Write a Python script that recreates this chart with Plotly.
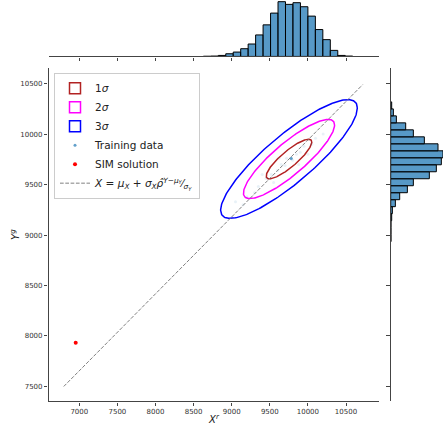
import numpy as np
import plotly.graph_objects as go

# ---------------- data ----------------
MU_X, MU_Y = 9752, 9753
SIGMA_X, SIGMA_Y = 299, 196
RHO = 0.86
N_STD = [1, 2, 3]
ELL_NAMES = ["1<i>σ</i>", "2<i>σ</i>", "3<i>σ</i>"]
ELL_COLORS = ["#b22222", "#ff00ff", "#0000ff"]

SIM_X = [6953]
SIM_Y = [7934]

LINE_Y = [7500, 10490]

TRAIN_X = [9450, 9520, 9600, 9650, 9700, 9720, 9800, 9850, 9900, 9950, 10050, 10100,
           9350, 9300, 9200, 9550, 9620, 9880, 10000, 10200, 9150, 9050, 9400]
TRAIN_Y = [9560, 9600, 9640, 9700, 9690, 9760, 9740, 9800, 9820, 9880, 9900, 9960,
           9480, 9420, 9380, 9520, 9760, 9700, 9800, 10000, 9300, 9330, 9600]
CENTER_X = [9780, 9782, 9779]
CENTER_Y = [9760, 9757, 9762]

HX_EDGE0, HX_WIDTH = 8628, 98
HX_COUNTS = [0.5, 1, 3, 8, 13, 23, 37, 64, 94, 129, 163, 155, 160, 148, 120, 80, 50, 18, 3, 1]
HY_EDGE0, HY_WIDTH = 8935, 69.2
HY_COUNTS = [1, 1, 1, 3, 5, 14, 27, 50, 68, 116, 137, 152, 157, 142, 101, 68, 45, 17, 8, 3]

X_TICKS = [7000, 7500, 8000, 8500, 9000, 9500, 10000, 10500]
Y_TICKS = [7500, 8000, 8500, 9000, 9500, 10000, 10500]

# ---------------- figure ----------------
W, H = 443, 425
fig = go.Figure()

cov = np.array([[SIGMA_X**2, RHO * SIGMA_X * SIGMA_Y],
                [RHO * SIGMA_X * SIGMA_Y, SIGMA_Y**2]])
L = np.linalg.cholesky(cov)
t = np.linspace(0, 2 * np.pi, 240)
circ = np.vstack([np.cos(t), np.sin(t)])
for n, name, col in zip(N_STD, ELL_NAMES, ELL_COLORS):
    pts = n * (L @ circ)
    fig.add_trace(go.Scatter(x=MU_X + pts[0], y=MU_Y + pts[1], mode="lines",
                             line=dict(color=col, width=1.5), showlegend=False,
                             xaxis="x", yaxis="y"))
    # legend proxy: open rectangle
    fig.add_trace(go.Scatter(x=[None], y=[None], mode="markers", name=name,
                             marker=dict(symbol="square-open", size=11, color=col,
                                         line=dict(color=col, width=1.5)),
                             xaxis="x", yaxis="y"))

# training data (faint) + legend proxy
fig.add_trace(go.Scatter(x=TRAIN_X, y=TRAIN_Y, mode="markers",
                         marker=dict(size=3, color="rgba(31,119,180,0.1)"),
                         showlegend=False, xaxis="x", yaxis="y"))
fig.add_trace(go.Scatter(x=CENTER_X, y=CENTER_Y, mode="markers",
                         marker=dict(size=3, color="rgba(31,119,180,0.35)"),
                         showlegend=False, xaxis="x", yaxis="y"))
fig.add_trace(go.Scatter(x=[None], y=[None], mode="markers",
                         marker=dict(size=3, color="rgba(31,119,180,0.7)"),
                         name="Training data", xaxis="x", yaxis="y"))
fig.add_trace(go.Scatter(x=SIM_X, y=SIM_Y, mode="markers",
                         marker=dict(size=4, color="red"),
                         name="SIM solution", xaxis="x", yaxis="y"))

slope = SIGMA_X * RHO / SIGMA_Y
line_x = [MU_X + slope * (y - MU_Y) for y in LINE_Y]
fig.add_trace(go.Scatter(
    x=line_x, y=LINE_Y, mode="lines",
    line=dict(color="gray", width=1, dash="3.7px,1.6px"),
    name=("<i>X</i> = <i>μ<sub>X</sub></i> + <i>σ<sub>X</sub></i><i>ρ̂</i>"
          "<sup><i>Y</i>−<i>μ<sub>Y</sub></i></sup>⁄<sub><i>σ<sub>Y</sub></i></sub>"),
    xaxis="x", yaxis="y"))

# marginal histograms
hx_centers = [HX_EDGE0 + HX_WIDTH * (i + 0.5) for i in range(len(HX_COUNTS))]
fig.add_trace(go.Bar(x=hx_centers, y=HX_COUNTS, width=HX_WIDTH,
                     marker=dict(color="rgba(31,119,180,0.75)",
                                 line=dict(color="black", width=1)),
                     showlegend=False, xaxis="x2", yaxis="y2"))
hy_centers = [HY_EDGE0 + HY_WIDTH * (i + 0.5) for i in range(len(HY_COUNTS))]
fig.add_trace(go.Bar(y=hy_centers, x=HY_COUNTS, width=HY_WIDTH, orientation="h",
                     marker=dict(color="rgba(31,119,180,0.75)",
                                 line=dict(color="black", width=1)),
                     showlegend=False, xaxis="x3", yaxis="y3"))

x_dom = [48.5 / W, 379.3 / W]
y_dom = [(H - 403.3) / H, (H - 68) / H]
base = dict(showline=True, linecolor="#444", linewidth=1.2, ticks="outside",
            ticklen=3.5, tickcolor="#444", tickwidth=1, showgrid=False,
            zeroline=False)
tickfont = dict(family="DejaVu Sans", size=7, color="#333")

fig.update_layout(
    width=W, height=H, margin=dict(l=0, r=0, t=0, b=0),
    plot_bgcolor="white", paper_bgcolor="white",
    font=dict(family="DejaVu Sans", color="#222"),
    xaxis=dict(domain=x_dom, range=[6596, 10937], tickvals=X_TICKS,
               ticktext=[str(v) for v in X_TICKS], tickfont=tickfont,
               title=dict(text="<i>X<sup>r</sup></i>", font=dict(size=10), standoff=2),
               **base),
    yaxis=dict(domain=y_dom, range=[7352, 10658], tickvals=Y_TICKS,
               ticktext=[str(v) for v in Y_TICKS], tickfont=tickfont,
               **base),
    xaxis2=dict(domain=x_dom, matches="x", anchor="y2", tickvals=X_TICKS,
                showticklabels=False, **base),
    yaxis2=dict(domain=[(H - 56.7) / H, 1.0], range=[0, 168], anchor="x2",
                visible=False),
    xaxis3=dict(domain=[390.7 / W, 1.0], range=[0, 157], anchor="y3", visible=False),
    yaxis3=dict(domain=y_dom, matches="y", anchor="x3", tickvals=Y_TICKS,
                showticklabels=False, **base),
    legend=dict(x=54 / W, y=(H - 73) / H, xanchor="left", yanchor="top",
                bgcolor="rgba(255,255,255,0.85)", bordercolor="#ccc", borderwidth=1,
                font=dict(family="DejaVu Sans", size=10.5, color="#222"),
                tracegroupgap=0, itemwidth=30),
    annotations=[dict(text="<i>Y<sup>g</sup></i>", xref="paper", yref="paper",
                      x=15 / W, y=(H - 236) / H, textangle=-90, showarrow=False,
                      font=dict(size=10, color="#222"), xanchor="center", yanchor="middle")],
    showlegend=True,
    barmode="overlay",
)

fig.write_html("out.html")
